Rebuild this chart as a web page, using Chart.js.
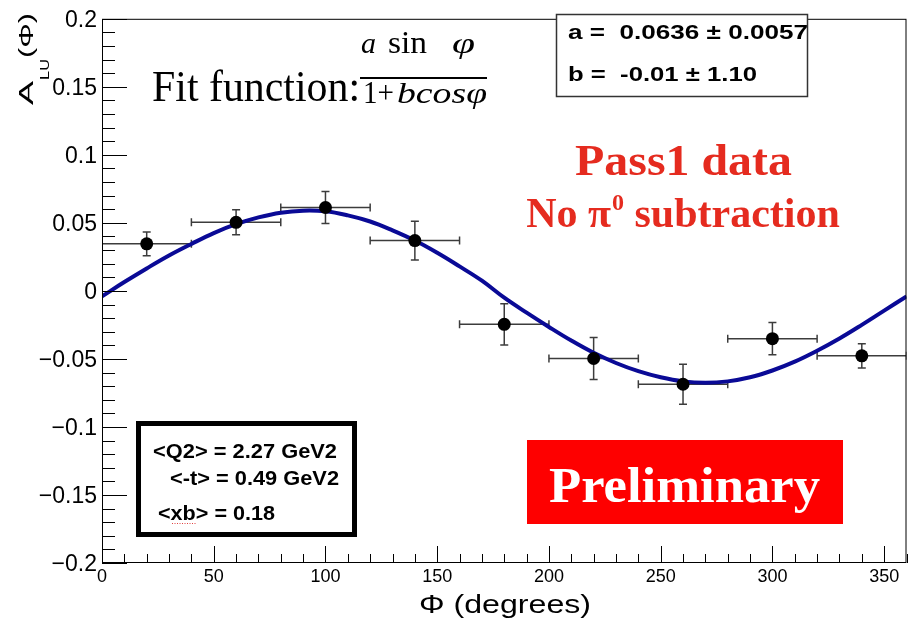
<!DOCTYPE html>
<html>
<head>
<meta charset="utf-8">
<script src="https://cdn.jsdelivr.net/npm/chart.js@4.4.1/dist/chart.umd.min.js"></script>
<style>
body { margin: 0; background: #fff; }
canvas { display: block; }
</style>
</head>
<body>
<canvas id="asymChart" width="913" height="624"></canvas>
<script>
// measured points (bin centres, asymmetry, stat errors)
const phiBins = [20, 60, 100, 140, 180, 220, 260, 300, 340];
const phiHalfWidth = [20, 20, 20, 20, 20, 20, 20, 20, 20];
const asymValues = [0.0346, 0.0504, 0.0613, 0.0370, -0.0246, -0.0497, -0.0686, -0.0351, -0.0477];
const asymErrors = [0.0087, 0.0092, 0.0118, 0.0142, 0.0152, 0.0155, 0.0147, 0.0119, 0.0089];

// fit curve
const fitPhi = [0, 10, 20, 30, 40, 50, 60, 70, 80, 90, 100, 110, 120, 130, 140, 150, 160, 170, 180,
    190, 200, 210, 220, 230, 240, 250, 260, 270, 280, 290, 300, 310, 320, 330, 340, 350, 360];
const fitValues = [-0.004, 0.0065, 0.0165, 0.026, 0.0345, 0.0425, 0.049, 0.054, 0.0575, 0.059, 0.0585,
    0.0555, 0.051, 0.0445, 0.037, 0.028, 0.018, 0.0075, -0.005, -0.016, -0.0265, -0.0365, -0.0455,
    -0.053, -0.059, -0.0635, -0.0665, -0.0675, -0.0665, -0.0635, -0.0585, -0.052, -0.044, -0.035,
    -0.025, -0.0145, -0.004];

const yTickLabels = ['\u22120.2', '\u22120.15', '\u22120.1', '\u22120.05', '0', '0.05', '0.1', '0.15', '0.2'];

const sans = '"Liberation Sans", Arial, sans-serif';
const serif = '"Liberation Serif", "Times New Roman", serif';

function fitText(ctx, text, x, y, width) {
    const w = ctx.measureText(text).width;
    ctx.save();
    ctx.translate(x, y);
    ctx.scale(width / w, 1);
    ctx.textAlign = 'left';
    ctx.fillText(text, 0, 0);
    ctx.restore();
}

const rootStyle = {
    id: 'rootStyle',
    beforeDatasetsDraw(chart) {
        const { ctx, chartArea: a, scales: { x, y } } = chart;
        ctx.save();
        ctx.beginPath();
        ctx.rect(a.left, a.top, a.right - a.left, a.bottom - a.top);
        ctx.clip();
        ctx.strokeStyle = '#3c3c3c';
        ctx.lineWidth = 1.5;
        phiBins.forEach((phi, i) => {
            const px = x.getPixelForValue(phi);
            const py = y.getPixelForValue(asymValues[i]);
            const x0 = x.getPixelForValue(phi - phiHalfWidth[i]);
            const x1 = x.getPixelForValue(phi + phiHalfWidth[i]);
            const y0 = y.getPixelForValue(asymValues[i] + asymErrors[i]);
            const y1 = y.getPixelForValue(asymValues[i] - asymErrors[i]);
            ctx.beginPath();
            ctx.moveTo(x0, py); ctx.lineTo(x1, py);
            ctx.moveTo(px, y0); ctx.lineTo(px, y1);
            ctx.moveTo(x0, py - 4); ctx.lineTo(x0, py + 4);
            ctx.moveTo(x1, py - 4); ctx.lineTo(x1, py + 4);
            ctx.moveTo(px - 4, y0); ctx.lineTo(px + 4, y0);
            ctx.moveTo(px - 4, y1); ctx.lineTo(px + 4, y1);
            ctx.stroke();
        });
        ctx.restore();
    },
    afterDraw(chart) {
        const { ctx, chartArea: a, scales: { x, y } } = chart;
        ctx.save();

        // frame + inside ticks
        ctx.strokeStyle = '#000';
        ctx.lineWidth = 1;
        ctx.strokeRect(a.left + 0.5, a.top + 0.5, a.right - a.left - 1, a.bottom - a.top - 1);
        ctx.beginPath();
        for (let v = 0; v <= 360; v += 10) {
            const px = Math.round(x.getPixelForValue(v)) + 0.5;
            const len = v % 50 === 0 ? 17 : 9;
            ctx.moveTo(px, a.bottom);
            ctx.lineTo(px, a.bottom - len);
        }
        for (let k = -20; k <= 20; k++) {
            const py = Math.round(y.getPixelForValue(k / 100)) + 0.5;
            const len = k % 5 === 0 ? 25 : 13;
            ctx.moveTo(a.left, py);
            ctx.lineTo(a.left + len, py);
        }
        ctx.stroke();

        // axis titles
        ctx.fillStyle = '#000';
        ctx.textBaseline = 'alphabetic';
        ctx.font = '26px ' + sans;
        fitText(ctx, '\u03A6 (degrees)', 419, 613, 172);

        ctx.save();
        ctx.translate(33, 105);
        ctx.rotate(-Math.PI / 2);
        ctx.font = '21px ' + sans;
        fitText(ctx, 'A', 0, 0, 24);
        ctx.font = '12px ' + sans;
        fitText(ctx, 'LU', 25, 16, 21);
        ctx.font = '21px ' + sans;
        fitText(ctx, '(\u03A6)', 47, 0, 45);
        ctx.restore();

        // fit function label
        ctx.font = '44px ' + serif;
        fitText(ctx, 'Fit function:', 152, 101, 208);
        ctx.font = 'italic 30px ' + serif;
        ctx.fillText('a', 361, 53);
        fitText(ctx, '\u03C6', 452, 53, 23);
        ctx.font = '31px ' + serif;
        fitText(ctx, 'sin', 388, 53, 39);
        ctx.font = '31px ' + serif;
        fitText(ctx, '1+', 363, 103, 31);
        ctx.font = 'italic 30px ' + serif;
        fitText(ctx, 'bcos\u03C6', 397, 103, 90);
        ctx.fillRect(360, 77, 127, 2);

        // fit parameter box
        ctx.fillStyle = '#fff';
        ctx.fillRect(556, 14, 252, 83);
        ctx.strokeStyle = '#333';
        ctx.lineWidth = 1.5;
        ctx.strokeRect(556.5, 14.5, 251, 82);
        ctx.fillStyle = '#000';
        ctx.font = 'bold 20px ' + sans;
        fitText(ctx, 'a =  0.0636 \u00B1 0.0057', 568, 39, 240);
        fitText(ctx, 'b =  -0.01 \u00B1 1.10', 568, 81, 189);

        // red labels
        ctx.fillStyle = '#e52b1f';
        ctx.font = 'bold 45px ' + serif;
        fitText(ctx, 'Pass1 data', 575, 175, 217);
        const bigFont = 'bold 42px ' + serif;
        const supFont = 'bold 24px ' + serif;
        ctx.font = bigFont;
        const wHead = ctx.measureText('No \u03C0').width;
        const wTail = ctx.measureText(' subtraction').width;
        ctx.font = supFont;
        const wSup = ctx.measureText('0').width + 1;
        let cx = 683 - (wHead + wSup + wTail) / 2;
        ctx.textAlign = 'left';
        ctx.font = bigFont;
        ctx.fillText('No \u03C0', cx, 227);
        cx += wHead + 1;
        ctx.font = supFont;
        ctx.fillText('0', cx, 210);
        cx += wSup - 1;
        ctx.font = bigFont;
        ctx.fillText(' subtraction', cx, 227);

        ctx.fillStyle = '#fe0000';
        ctx.fillRect(527, 440, 316, 84);
        ctx.fillStyle = '#fff';
        ctx.font = 'bold 50px ' + serif;
        fitText(ctx, 'Preliminary', 549, 502, 271);

        // kinematics box
        ctx.fillStyle = '#fff';
        ctx.fillRect(138, 423, 217, 112);
        ctx.strokeStyle = '#000';
        ctx.lineWidth = 5;
        ctx.strokeRect(138.5, 423.5, 216, 111);
        ctx.fillStyle = '#000';
        ctx.font = 'bold 21px ' + sans;
        fitText(ctx, '<Q2> = 2.27 GeV2', 153, 458, 184);
        fitText(ctx, '<-t> = 0.49 GeV2', 170, 485, 169);
        fitText(ctx, '<xb> = 0.18', 158, 520, 117);
        ctx.strokeStyle = '#e04040';
        ctx.lineWidth = 1;
        ctx.setLineDash([1, 1.5]);
        ctx.beginPath();
        ctx.moveTo(172, 523.5);
        ctx.lineTo(197, 523.5);
        ctx.stroke();

        ctx.restore();
    }
};

const ctx = document.getElementById('asymChart');
const chart = new Chart(ctx, {
    type: 'scatter',
    data: {
        datasets: [{
            label: 'data',
            order: 0,
            data: phiBins.map((phi, i) => ({ x: phi, y: asymValues[i] })),
            pointRadius: 6.5,
            pointBackgroundColor: '#000',
            pointBorderWidth: 0,
            showLine: false
        }, {
            label: 'fit',
            order: 1,
            data: fitPhi.map((phi, i) => ({ x: phi, y: fitValues[i] })),
            showLine: true,
            borderColor: '#0a0a96',
            borderWidth: 4,
            pointRadius: 0,
            tension: 0.4
        }]
    },
    options: {
        responsive: false,
        animation: false,
        devicePixelRatio: 1,
        layout: { padding: { left: 0, right: 5, top: 14, bottom: 0 } },
        plugins: { legend: { display: false }, tooltip: { enabled: false } },
        scales: {
            x: {
                type: 'linear',
                min: 0,
                max: 360,
                grid: { display: false, drawTicks: false },
                border: { display: false },
                ticks: {
                    stepSize: 50,
                    includeBounds: false,
                    maxRotation: 0,
                    padding: 3,
                    color: '#000',
                    font: { family: 'Liberation Sans', size: 18 }
                },
                afterFit(scale) { scale.height = 61; }
            },
            y: {
                type: 'linear',
                min: -0.2,
                max: 0.2,
                grid: { display: false, drawTicks: false },
                border: { display: false },
                ticks: {
                    stepSize: 0.05,
                    padding: 5,
                    labelOffset: 2,
                    color: '#000',
                    font: { family: 'Liberation Sans', size: 23 },
                    callback: (value, index) => yTickLabels[index]
                },
                afterFit(scale) { scale.width = 102; }
            }
        }
    },
    plugins: [rootStyle]
});
</script>
</body>
</html>
